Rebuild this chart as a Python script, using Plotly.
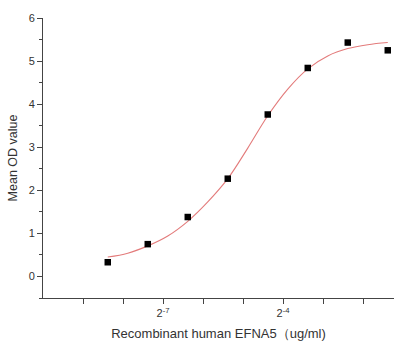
import numpy as np
import plotly.graph_objects as go

# Data
conc = [0.003, 0.006, 0.012, 0.024, 0.048, 0.096, 0.192, 0.384]  # ug/ml
od = [0.33, 0.75, 1.38, 2.27, 3.76, 4.84, 5.43, 5.25]

fit_conc = [0.003 * 2 ** (k / 2) for k in range(15)]
fit_od = [0.45, 0.54, 0.71, 0.94, 1.28, 1.73, 2.27, 2.98, 3.73, 4.35, 4.82, 5.12, 5.29, 5.38, 5.43]

xlabel_vals = [2.0 ** -7, 2.0 ** -4]
xlabel_text = ["2<sup>-7</sup>", "2<sup>-4</sup>"]
xminor_vals = [2.0 ** p for p in range(-9, -1)]
ytick_vals = [0, 1, 2, 3, 4, 5, 6]

fig = go.Figure()
fig.add_trace(go.Scatter(x=fit_conc, y=fit_od, mode="lines",
                         line=dict(color="#e37b7b", width=1.1, shape="spline"),
                         showlegend=False, hoverinfo="skip"))
fig.add_trace(go.Scatter(x=conc, y=od, mode="markers",
                         marker=dict(symbol="square", size=6.5, color="black"),
                         showlegend=False))

font = "Liberation Sans, Arial, sans-serif"
fig.update_layout(
    width=416, height=350,
    margin=dict(l=43, r=22, t=15, b=52),
    paper_bgcolor="white", plot_bgcolor="white",
    font=dict(family=font, color="#333", size=11),
    xaxis=dict(type="log", range=[-10 * np.log10(2), -1.225 * np.log10(2)],
               tickmode="array", tickvals=xlabel_vals, ticktext=xlabel_text,
               showline=True, linecolor="#444", linewidth=1,
               ticks="outside", ticklen=5, tickcolor="#444",
               minor=dict(tickmode="array", tickvals=xminor_vals, ticks="outside",
                          ticklen=5, tickcolor="#444", showgrid=False),
               showgrid=False, zeroline=False,
               tickfont=dict(size=11, color="#333"),
               title=dict(text="Recombinant human EFNA5（ug/ml)",
                          font=dict(size=13, color="#333"), standoff=10)),
    yaxis=dict(range=[-0.5, 6], tickvals=ytick_vals,
               showline=True, linecolor="#444", linewidth=1,
               ticks="outside", ticklen=5, tickcolor="#444",
               minor=dict(ticks="outside", ticklen=3, dtick=0.5, tickcolor="#444", showgrid=False),
               showgrid=False, zeroline=False,
               tickfont=dict(size=11, color="#333"),
               title=dict(text="Mean OD value", font=dict(size=12.5, color="#333"), standoff=8)),
)
fig.write_html("out.html")
